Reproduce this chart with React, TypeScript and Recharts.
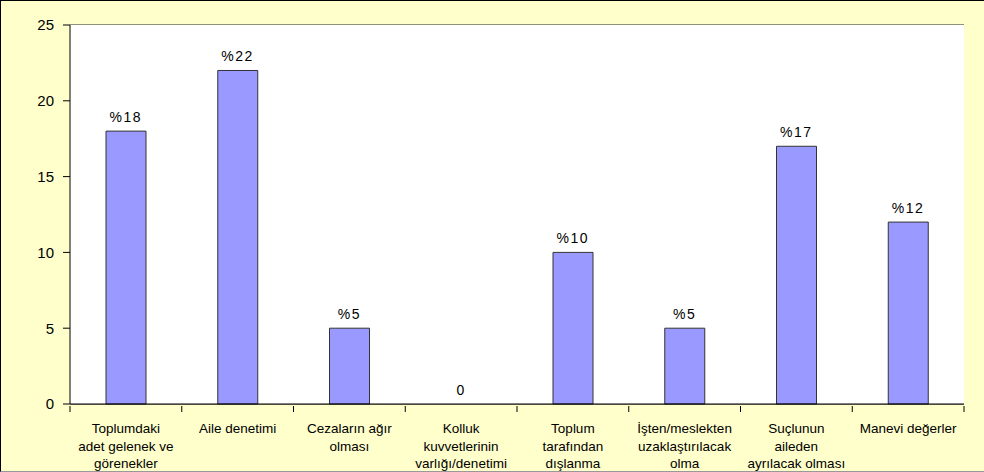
import { ComposedChart, Bar, Line, XAxis, YAxis, CartesianGrid, LabelList } from 'recharts';

const categories = [
  'Toplumdaki\nadet gelenek ve\ngörenekler',
  'Aile denetimi',
  'Cezaların ağır\nolması',
  'Kolluk\nkuvvetlerinin\nvarlığı/denetimi',
  'Toplum\ntarafından\ndışlanma',
  'İşten/meslekten\nuzaklaştırılacak\nolma',
  'Suçlunun\naileden\nayrılacak olması',
  'Manevi değerler',
];

const values = [18, 22, 5, 0, 10, 5, 17, 12];

const yTicks = [0, 5, 10, 15, 20, 25];

const data = categories.map((name, i) => ({ name, value: values[i] }));

const W = 984;
const H = 472;
const CH = H - 2;
const MARGIN = { top: 24, right: 20, bottom: 0, left: 0 };
const X_HEIGHT = 67;
const Y_WIDTH = 69;
const FONT = '"Liberation Sans", Arial, sans-serif';
const HALF_BAND = (W - 1 - MARGIN.right - Y_WIDTH) / categories.length / 2;

function CategoryTick(props: any) {
  const { x, y, payload, index } = props;
  const lines = String(payload.value).split('\n');
  const last = index === categories.length - 1;
  return (
    <g>
      <line x1={x - HALF_BAND} y1={y} x2={x - HALF_BAND} y2={y + 6} stroke="#000" />
      {last && <line x1={x + HALF_BAND} y1={y} x2={x + HALF_BAND} y2={y + 6} stroke="#000" />}
      <text x={x} y={y} textAnchor="middle" fontSize={13.5} fill="#000" fontFamily={FONT}>
        {lines.map((l, i) => (
          <tspan key={i} x={x} y={y + 27 + i * 17.5}>
            {l}
          </tspan>
        ))}
      </text>
    </g>
  );
}

// labels ride on an invisible line so the zero bar still gets its "0"
function ValueLabel(props: any) {
  const { x, y, value } = props;
  return (
    <text x={x} y={y - 9} textAnchor="middle" fontSize={14} fill="#000" fontFamily={FONT} letterSpacing={1.5}>
      {value === 0 ? '0' : '%' + value}
    </text>
  );
}

export default function App() {
  return (
    <div
      style={{
        position: 'absolute',
        left: 0,
        top: 0,
        width: W,
        height: H,
        background: '#FFFFCC',
        boxSizing: 'border-box',
        borderTop: '1px solid #000',
        borderLeft: '1px solid #000',
        borderBottom: '1px solid #999',
      }}
    >
      <ComposedChart
        width={W - 1}
        height={CH}
        data={data}
        margin={MARGIN}
        barSize={40}
        style={{ fontFamily: FONT }}
      >
        <rect
          x={Y_WIDTH}
          y={MARGIN.top}
          width={W - 1 - MARGIN.right - Y_WIDTH}
          height={CH - MARGIN.top - X_HEIGHT}
          fill="#fff"
        />
        <CartesianGrid vertical={false} stroke="#222" strokeWidth={1} />
        <XAxis
          dataKey="name"
          interval={0}
          height={X_HEIGHT}
          tickLine={false}
          tickSize={0}
          tick={<CategoryTick />}
          axisLine={{ stroke: '#000' }}
        />
        <YAxis
          domain={[0, 25]}
          ticks={yTicks}
          width={Y_WIDTH}
          tickSize={7}
          tickMargin={9}
          tick={{ fontSize: 15, fill: '#000', fontFamily: FONT }}
          tickLine={{ stroke: '#000' }}
          axisLine={{ stroke: '#000' }}
        />
        <YAxis
          yAxisId="right"
          orientation="right"
          domain={[0, 25]}
          width={0}
          tick={false}
          tickLine={false}
          axisLine={{ stroke: '#999', strokeWidth: 2 }}
        />
        <Bar dataKey="value" fill="#9999FF" stroke="#333" strokeWidth={1} isAnimationActive={false} />
        <Line
          dataKey="value"
          stroke="none"
          dot={false}
          activeDot={false}
          legendType="none"
          isAnimationActive={false}
        >
          <LabelList dataKey="value" content={<ValueLabel />} />
        </Line>
      </ComposedChart>
    </div>
  );
}
